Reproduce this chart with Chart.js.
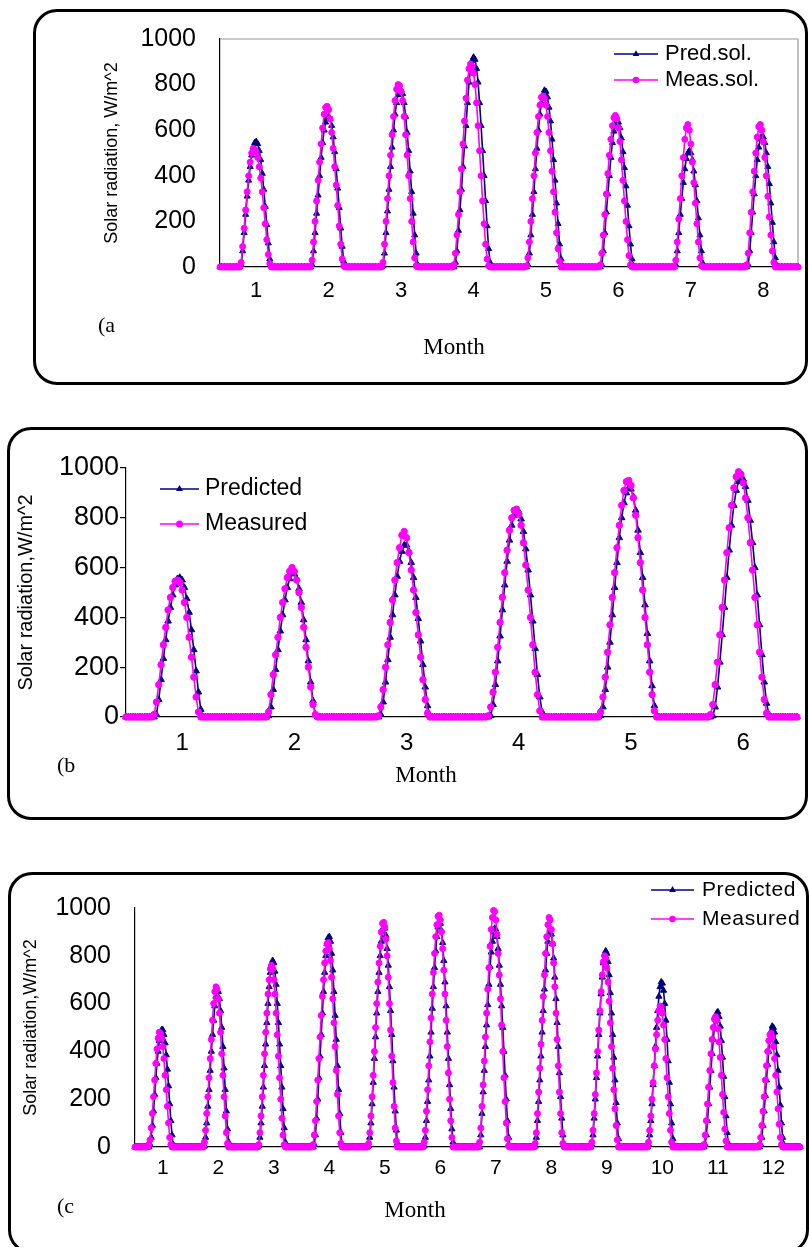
<!DOCTYPE html>
<html>
<head>
<meta charset="utf-8">
<script src="https://cdn.jsdelivr.net/npm/chart.js@4.4.0/dist/chart.umd.min.js"></script>
<style>
  body { margin: 0; background: #fff; width: 809px; height: 1247px; overflow: hidden; position: relative; }
  .box { position: absolute; box-sizing: border-box; border: 3px solid #000; border-radius: 24px; }
  canvas { position: absolute; left: 0; }
</style>
</head>
<body>
<div class="box" style="left:33px;top:9px;width:775px;height:376px"></div>
<div class="box" style="left:7px;top:427px;width:801px;height:393px"></div>
<div class="box" style="left:8px;top:872px;width:801px;height:382px"></div>
<canvas id="chartA" width="809" height="400" style="top:0px"></canvas>
<canvas id="chartB" width="809" height="420" style="top:420px"></canvas>
<canvas id="chartC" width="809" height="387" style="top:860px"></canvas>
<script>
// half-hourly solar radiation (W/m^2), one row of 48 values per month

const monthsA = [1, 2, 3, 4, 5, 6, 7, 8];

const predA = [
    [0,0,0,0,0, 0,0,0,0,0, 0,0,0,0, 10,70,150,230,310,380,440,490,525,545,550,540,510,470,410,340,265,185,105,35,5, 0,0,0,0,0, 0,0,0,0,0, 0,0,0],
    [0,0,0,0,0, 0,0,0,0,0, 0,0,0, 10,70,150,235,315,400,480,545,600,635,655,660,650,620,570,505,430,345,260,170,90,25, 0,0,0,0,0, 0,0,0,0,0, 0,0,0],
    [0,0,0,0,0, 0,0,0,0,0, 0,0, 5,60,150,245,340,440,525,600,670,720,755,770,775,760,720,660,590,510,420,330,235,140,60,10, 0,0,0,0,0, 0,0,0,0,0, 0,0],
    [0,0,0,0,0, 0,0,0,0,0, 0,0, 20,70,160,250,340,440,530,620,720,810,870,905,920,910,870,810,720,620,510,400,290,180,80,20, 0,0,0,0,0, 0,0,0,0,0, 0,0],
    [0,0,0,0,0, 0,0,0,0,0, 0,0, 10,60,140,230,330,430,520,600,670,720,755,775,770,745,700,640,560,470,380,280,190,100,35,5, 0,0,0,0,0, 0,0,0,0,0, 0,0],
    [0,0,0,0,0, 0,0,0,0,0, 0,0,0, 10,70,150,240,320,400,480,545,595,625,640,635,610,565,505,435,355,270,180,100,35,5, 0,0,0,0,0, 0,0,0,0,0, 0,0,0],
    [0,0,0,0,0, 0,0,0,0,0, 0,0,0,0, 10,70,150,230,300,370,430,475,500,510,500,470,420,360,290,215,140,70,15, 0,0,0,0,0, 0,0,0,0,0, 0,0,0,0,0],
    [0,0,0,0,0, 0,0,0,0,0, 0,0,0,0, 10,70,150,240,320,400,470,525,560,575,570,545,500,440,365,280,195,110,40,5, 0,0,0,0,0, 0,0,0,0,0, 0,0,0,0]
];

const measA = [
    [0,0,0,0,0, 0,0,0,0,0, 0,0,0,0, 20,90,170,250,330,400,460,500,520,515,505,480,440,390,330,260,190,120,55,15, 0,0,0,0,0, 0,0,0,0,0, 0,0,0,0],
    [0,0,0,0,0, 0,0,0,0,0, 0,0,0, 30,110,200,290,380,460,540,610,670,700,705,690,650,590,520,440,360,270,180,100,35,5, 0,0,0,0,0, 0,0,0,0,0, 0,0,0],
    [0,0,0,0,0, 0,0,0,0,0, 0,0, 20,100,200,300,400,490,580,660,730,780,800,795,770,730,660,580,490,400,300,200,110,40,5, 0,0,0,0,0, 0,0,0,0,0, 0,0,0],
    [0,0,0,0,0, 0,0,0,0,0, 0, 10,60,140,230,330,430,540,640,740,820,870,890,880,850,800,720,620,510,400,290,190,100,35,5, 0,0,0,0,0, 0,0,0,0,0, 0,0,0],
    [0,0,0,0,0, 0,0,0,0,0, 0, 5,40,110,200,300,400,500,590,660,710,745,750,740,710,660,590,510,420,330,240,150,80,25, 0,0,0,0,0, 0,0,0,0,0, 0,0,0,0],
    [0,0,0,0,0, 0,0,0,0,0, 0,0, 10,60,140,230,320,410,490,560,620,655,665,650,610,550,470,380,290,200,120,50,10, 0,0,0,0,0, 0,0,0,0,0, 0,0,0,0,0],
    [0,0,0,0,0, 0,0,0,0,0, 0,0,0,0, 30,110,210,300,400,480,560,610,625,600,540,460,370,280,190,110,40,5, 0,0,0,0,0, 0,0,0,0,0, 0,0,0,0,0, 0],
    [0,0,0,0,0, 0,0,0,0,0, 0,0,0, 10,60,150,240,330,420,500,570,615,625,600,550,480,400,310,220,140,70,20, 0,0,0,0,0, 0,0,0,0,0, 0,0,0,0,0, 0]
];

const monthsB = [1, 2, 3, 4, 5, 6];

const predB = [
    [0,0,0,0,0, 0,0,0,0,0, 0,0,0, 10,70,150,235,310,385,440,490,530,555,560,550,520,475,420,350,270,185,100,30, 0,0,0,0,0, 0,0,0,0,0, 0,0,0,0,0],
    [0,0,0,0,0, 0,0,0,0,0, 0,0,0, 5,40,110,190,270,345,410,470,520,555,575,575,555,515,460,390,310,225,140,65,10, 0,0,0,0,0, 0,0,0,0,0, 0,0,0,0],
    [0,0,0,0,0, 0,0,0,0,0, 0,0,0, 10,60,140,230,320,410,490,565,625,665,690,690,665,620,560,480,395,305,210,120,45,5, 0,0,0,0,0, 0,0,0,0,0, 0,0,0],
    [0,0,0,0,0, 0,0,0,0,0, 0,0, 5,50,130,225,325,430,530,625,710,770,810,830,825,795,745,675,590,490,385,275,170,80,20, 0,0,0,0,0, 0,0,0,0,0, 0,0,0],
    [0,0,0,0,0, 0,0,0,0,0, 0, 5,40,110,200,300,410,520,620,720,800,860,900,920,915,885,830,750,660,560,450,335,225,125,45,5, 0,0,0,0,0, 0,0,0,0,0, 0,0],
    [0,0,0,0,0, 0,0,0,0,0, 0, 5,40,120,220,330,440,560,670,770,850,910,945,960,955,925,870,790,700,600,490,370,250,140,55,10, 0,0,0,0,0, 0,0,0,0,0, 0,0]
];

const measB = [
    [0,0,0,0,0, 0,0,0,0,0, 0,0, 10,60,130,210,290,360,430,480,520,545,550,540,510,460,400,320,240,160,80,20, 0,0,0,0,0, 0,0,0,0,0, 0,0,0,0,0, 0],
    [0,0,0,0,0, 0,0,0,0,0, 0,0,0, 20,90,170,250,320,400,460,515,560,585,600,585,550,500,440,360,280,200,120,50,10, 0,0,0,0,0, 0,0,0,0,0, 0,0,0,0],
    [0,0,0,0,0, 0,0,0,0,0, 0,0, 5,40,110,200,290,380,470,550,620,680,730,745,720,660,590,510,420,330,240,150,70,15, 0,0,0,0,0, 0,0,0,0,0, 0,0,0,0],
    [0,0,0,0,0, 0,0,0,0,0, 0, 5,40,100,180,280,380,480,580,670,750,800,830,835,815,770,700,610,510,400,290,180,90,25, 0,0,0,0,0, 0,0,0,0,0, 0,0,0,0],
    [0,0,0,0,0, 0,0,0,0,0, 0, 20,80,160,260,370,480,580,680,770,850,910,945,950,930,880,810,720,620,510,400,290,180,90,25, 0,0,0,0,0, 0,0,0,0,0, 0,0,0],
    [0,0,0,0,0, 0,0,0,0,0, 10,50,130,220,330,440,550,660,760,850,920,965,985,975,940,880,800,700,590,480,370,260,160,70,15, 0,0,0,0,0, 0,0,0,0,0, 0,0,0]
];

const monthsC = [1, 2, 3, 4, 5, 6, 7, 8, 9, 10, 11, 12];

const predC = [
    [0,0,0,0,0, 0,0,0,0,0, 0,0,0, 10,40,90,150,220,290,350,400,445,475,490,490,470,435,385,325,255,180,110,50,10, 0,0,0,0,0, 0,0,0,0,0, 0,0,0,0],
    [0,0,0,0,0, 0,0,0,0,0, 0,0, 5,40,100,170,240,320,400,470,530,590,630,655,650,620,570,500,420,330,240,150,75,20, 0,0,0,0,0, 0,0,0,0,0, 0,0,0,0],
    [0,0,0,0,0, 0,0,0,0,0, 0, 5,40,100,170,250,340,430,520,600,670,730,765,780,770,735,680,600,520,430,340,250,160,80,20, 0,0,0,0,0, 0,0,0,0,0, 0,0,0],
    [0,0,0,0,0, 0,0,0,0,0, 0, 10,50,120,200,290,380,470,560,650,730,800,850,875,880,860,810,740,650,550,450,340,240,140,60,10, 0,0,0,0,0, 0,0,0,0,0, 0,0],
    [0,0,0,0,0, 0,0,0,0,0, 5,40,100,180,270,370,460,560,650,730,800,860,900,920,915,885,830,760,670,570,470,360,250,150,70,15, 0,0,0,0,0, 0,0,0,0,0, 0,0],
    [0,0,0,0,0, 0,0,0,0,0, 5,40,110,190,280,380,480,580,670,750,820,880,920,940,935,905,855,780,690,590,480,370,260,160,75,20, 0,0,0,0,0, 0,0,0,0,0, 0,0],
    [0,0,0,0,0, 0,0,0,0,0, 0, 50,140,230,320,420,510,595,680,755,815,860,900,915,910,880,830,760,680,590,500,400,300,200,110,40,5, 0,0,0,0,0, 0,0,0,0,0, 0],
    [0,0,0,0,0, 0,0,0,0,0, 5,40,110,190,280,380,480,570,660,740,810,860,890,900,890,850,790,710,620,520,420,310,210,120,50,10, 0,0,0,0,0, 0,0,0,0,0, 0,0],
    [0,0,0,0,0, 0,0,0,0,0, 0, 10,50,120,200,290,380,470,560,640,710,770,805,820,810,775,720,645,560,470,375,280,185,100,35, 0,0,0,0,0, 0,0,0,0,0, 0,0,0],
    [0,0,0,0,0, 0,0,0,0,0, 0,0, 10,50,110,180,260,340,420,500,570,630,670,690,685,655,600,530,450,360,270,180,100,35, 0,0,0,0,0, 0,0,0,0,0, 0,0,0,0],
    [0,0,0,0,0, 0,0,0,0,0, 0,0,0, 10,50,110,180,250,320,390,450,500,540,560,565,545,505,445,375,295,210,130,60,15, 0,0,0,0,0, 0,0,0,0,0, 0,0,0,0],
    [0,0,0,0,0, 0,0,0,0,0, 0,0,0, 10,40,90,150,215,280,345,400,450,485,505,500,480,440,385,320,250,175,100,40,10, 0,0,0,0,0, 0,0,0,0,0, 0,0,0,0]
];

const measC = [
    [0,0,0,0,0, 0,0,0,0,0, 0,0, 10,30,80,140,210,280,350,410,455,480,475,455,420,370,300,240,170,100,40,10, 0,0,0,0,0, 0,0,0,0,0, 0,0,0,0,0, 0],
    [0,0,0,0,0, 0,0,0,0,0, 0,0, 20,70,140,210,290,370,450,530,600,650,670,660,620,560,480,390,300,210,130,60,15, 0,0,0,0,0, 0,0,0,0,0, 0,0,0,0,0],
    [0,0,0,0,0, 0,0,0,0,0, 0, 10,60,130,210,300,390,480,560,640,700,745,760,745,700,640,560,470,380,290,200,120,50,10, 0,0,0,0,0, 0,0,0,0,0, 0,0,0,0],
    [0,0,0,0,0, 0,0,0,0,0, 10,50,110,190,280,370,460,550,630,700,770,820,850,855,830,780,710,620,520,420,320,220,130,60,15, 0,0,0,0,0, 0,0,0,0,0, 0,0,0],
    [0,0,0,0,0, 0,0,0,0,0, 15,60,130,210,300,400,500,600,690,770,840,900,935,940,920,870,800,710,600,490,380,270,170,80,25, 0,0,0,0,0, 0,0,0,0,0, 0,0,0],
    [0,0,0,0,0, 0,0,0,0,0, 20,70,150,240,340,440,540,640,730,810,880,930,965,970,950,900,830,740,640,530,420,310,200,110,40, 0,0,0,0,0, 0,0,0,0,0, 0,0,0],
    [0,0,0,0,0, 0,0,0,0,0, 20,80,170,260,360,460,560,660,750,840,910,960,990,985,950,890,810,720,620,510,400,290,190,100,35,5, 0,0,0,0,0, 0,0,0,0,0, 0,0],
    [0,0,0,0,0, 0,0,0,0,0, 15,60,140,230,330,430,530,630,720,810,880,930,960,950,910,850,770,670,560,450,340,230,140,60,15, 0,0,0,0,0, 0,0,0,0,0, 0,0,0],
    [0,0,0,0,0, 0,0,0,0,0, 0, 20,70,140,220,310,400,490,570,650,720,775,800,790,750,690,610,520,420,330,240,160,90,30, 0,0,0,0,0, 0,0,0,0,0, 0,0,0,0],
    [0,0,0,0,0, 0,0,0,0,0, 0,0, 20,70,130,200,270,340,410,470,530,570,590,585,560,510,450,370,290,210,140,70,20, 0,0,0,0,0, 0,0,0,0,0, 0,0,0,0,0],
    [0,0,0,0,0, 0,0,0,0,0, 0,0, 10,50,110,180,250,320,390,450,500,535,545,530,495,440,375,300,220,145,75,25, 0,0,0,0,0, 0,0,0,0,0, 0,0,0,0,0, 0],
    [0,0,0,0,0, 0,0,0,0,0, 0,0, 10,40,90,150,210,280,340,400,445,470,475,460,420,370,300,230,160,95,40,10, 0,0,0,0,0, 0,0,0,0,0, 0,0,0,0,0, 0]
];

const NAVY = "#000080";
const PINK = "#ff00ff";
const SANS = "'Liberation Sans', Arial, sans-serif";
const SERIF = "'Liberation Serif', 'Times New Roman', serif";

Chart.defaults.color = "#000";
Chart.defaults.font.family = SANS;

function joinRows(rows, name) {
    rows.forEach((r, i) => {
        if (r.length !== 48) {
            throw new Error(name + " row " + i + " has " + r.length + " values");
        }
    });
    return rows.flat();
}

// one label per half hour, month number written at noon
function dayLabels(months) {
    const out = [];
    months.forEach(m => {
        for (let h = 0; h < 48; h++) {
            out.push(h === 24 ? String(m) : "");
        }
    });
    return out;
}

function marker(ctx, style, x, y, r, color) {
    ctx.fillStyle = color;
    ctx.beginPath();
    if (style === "triangle") {
        let a = 0;
        ctx.moveTo(x + Math.sin(a) * r, y - Math.cos(a) * r);
        a += Math.PI * 2 / 3;
        ctx.lineTo(x + Math.sin(a) * r, y - Math.cos(a) * r);
        a += Math.PI * 2 / 3;
        ctx.lineTo(x + Math.sin(a) * r, y - Math.cos(a) * r);
        ctx.closePath();
    } else {
        ctx.arc(x, y, r, 0, Math.PI * 2);
    }
    ctx.fill();
}

const decor = {
    id: "decor",

    beforeDatasetsDraw(chart, args, opts) {
        if (!opts.frame) return;
        const a = chart.chartArea;
        const ctx = chart.ctx;
        ctx.save();
        ctx.strokeStyle = "#9a9a9a";
        ctx.lineWidth = 1.2;
        ctx.beginPath();
        ctx.moveTo(a.left, a.top);
        ctx.lineTo(a.right, a.top);
        ctx.lineTo(a.right, a.bottom);
        ctx.stroke();
        ctx.restore();
    },

    afterDatasetsDraw(chart, args, opts) {
        const ctx = chart.ctx;
        const lg = opts.legend;

        ctx.save();
        ctx.font = lg.size + "px " + SANS;
        ctx.textBaseline = "middle";
        ctx.textAlign = "left";
        if (lg.spacing) ctx.letterSpacing = lg.spacing;

        chart.data.datasets.forEach((ds, i) => {
            const y = lg.y[i];
            ctx.strokeStyle = ds.borderColor;
            ctx.lineWidth = 1.5;
            ctx.beginPath();
            ctx.moveTo(lg.x0, y);
            ctx.lineTo(lg.x1, y);
            ctx.stroke();
            marker(ctx, ds.pointStyle, (lg.x0 + lg.x1) / 2, y, ds.pointRadius + 0.3, ds.borderColor);
            ctx.fillStyle = "#000";
            ctx.fillText(ds.label, lg.tx, y);
        });
        ctx.restore();

        ctx.save();
        ctx.fillStyle = "#000";
        ctx.textBaseline = "middle";
        ctx.font = opts.month.size + "px " + SERIF;
        ctx.textAlign = "center";
        ctx.fillText("Month", opts.month.x, opts.month.y);
        ctx.font = opts.tag.size + "px " + SERIF;
        ctx.textAlign = "left";
        ctx.fillText(opts.tag.text, opts.tag.x, opts.tag.y);
        ctx.restore();
    }
};

function makePanel(id, cfg) {
    return new Chart(document.getElementById(id), {
        type: "line",

        data: {
            labels: dayLabels(cfg.months),

            datasets: [{
                label: cfg.names[0],
                data: joinRows(cfg.pred, cfg.names[0]),
                borderColor: NAVY,
                backgroundColor: NAVY,
                pointBackgroundColor: NAVY,
                pointBorderColor: NAVY,
                borderWidth: 1.6,
                pointStyle: "triangle",
                pointRadius: cfg.triR,
                pointBorderWidth: 1,
                tension: 0,
                clip: false,
                order: 1
            }, {
                label: cfg.names[1],
                data: joinRows(cfg.meas, cfg.names[1]),
                borderColor: PINK,
                backgroundColor: PINK,
                pointBackgroundColor: PINK,
                pointBorderColor: PINK,
                borderWidth: 1.6,
                pointStyle: "circle",
                pointRadius: cfg.dotR,
                pointBorderWidth: 1,
                tension: 0,
                clip: false,
                order: 0
            }]
        },

        options: {
            responsive: false,
            animation: false,
            events: [],
            layout: { padding: cfg.pad },

            plugins: {
                legend: { display: false },
                tooltip: { enabled: false },
                decor: cfg.decor
            },

            scales: {
                x: {
                    type: "category",
                    grid: { display: false, drawTicks: false },
                    border: { display: true, color: "#000", width: 1.2 },
                    ticks: {
                        autoSkip: false,
                        maxRotation: 0,
                        minRotation: 0,
                        padding: cfg.xPad,
                        color: "#000",
                        font: { size: cfg.xFont, family: SANS }
                    },
                    afterFit: s => { s.height = cfg.xH; }
                },

                y: {
                    min: 0,
                    max: 1000,
                    grid: cfg.yTicks
                        ? { display: true, drawOnChartArea: false, drawTicks: true, tickLength: 6, color: "#000", lineWidth: 1.2 }
                        : { display: false, drawTicks: false },
                    border: { display: true, color: "#000", width: 1.2 },
                    ticks: {
                        stepSize: 200,
                        padding: cfg.yPad,
                        color: "#000",
                        font: { size: cfg.yFont, family: SANS },
                        callback: v => String(v)
                    },
                    title: {
                        display: true,
                        text: cfg.yTitle,
                        color: "#000",
                        font: { size: cfg.yTitleSize, family: SANS },
                        padding: { top: cfg.yTitlePad, bottom: 0 }
                    },
                    afterFit: s => { s.width = cfg.yW; }
                }
            }
        },

        plugins: [decor]
    });
}

makePanel("chartA", {
    months: monthsA,
    pred: predA,
    meas: measA,
    names: ["Pred.sol.", "Meas.sol."],
    triR: 3.5,
    dotR: 3.0,
    pad: { left: 0, right: 9, top: 31, bottom: 93 },
    yW: 220,
    xH: 40,
    xPad: 11,
    xFont: 22,
    yPad: 24,
    yFont: 25,
    yTicks: false,
    yTitle: "Solar radiation, W/m^2",
    yTitleSize: 18,
    yTitlePad: 101,
    decor: {
        frame: true,
        legend: { x0: 614, x1: 658, tx: 665, y: [54, 80], size: 22 },
        month: { x: 454, y: 348, size: 23 },
        tag: { text: "(a", x: 98, y: 326, size: 22 }
    }
});

makePanel("chartB", {
    months: monthsB,
    pred: predB,
    meas: measB,
    names: ["Predicted", "Measured"],
    triR: 3.8,
    dotR: 3.2,
    pad: { left: 0, right: 12, top: 48, bottom: 83 },
    yW: 126,
    xH: 40,
    xPad: 12,
    xFont: 24,
    yPad: 1,
    yFont: 27,
    yTicks: true,
    yTitle: "Solar radiation,W/m^2",
    yTitleSize: 20,
    yTitlePad: 14,
    decor: {
        frame: false,
        legend: { x0: 160, x1: 199, tx: 205, y: [69, 104], size: 23 },
        month: { x: 426, y: 356, size: 23 },
        tag: { text: "(b", x: 57, y: 346, size: 22 }
    }
});

makePanel("chartC", {
    months: monthsC,
    pred: predC,
    meas: measC,
    names: ["Predicted", "Measured"],
    triR: 3.6,
    dotR: 3.0,
    pad: { left: 0, right: 7, top: 48, bottom: 60 },
    yW: 135,
    xH: 40,
    xPad: 9,
    xFont: 21,
    yPad: 24,
    yFont: 25,
    yTicks: false,
    yTitle: "Solar radiation,W/m^2",
    yTitleSize: 18,
    yTitlePad: 20,
    decor: {
        frame: false,
        legend: { x0: 651, x1: 694, tx: 702, y: [30, 59], size: 21, spacing: "0.6px" },
        month: { x: 415, y: 351, size: 23 },
        tag: { text: "(c", x: 57, y: 347, size: 22 }
    }
});
</script>
</body>
</html>
